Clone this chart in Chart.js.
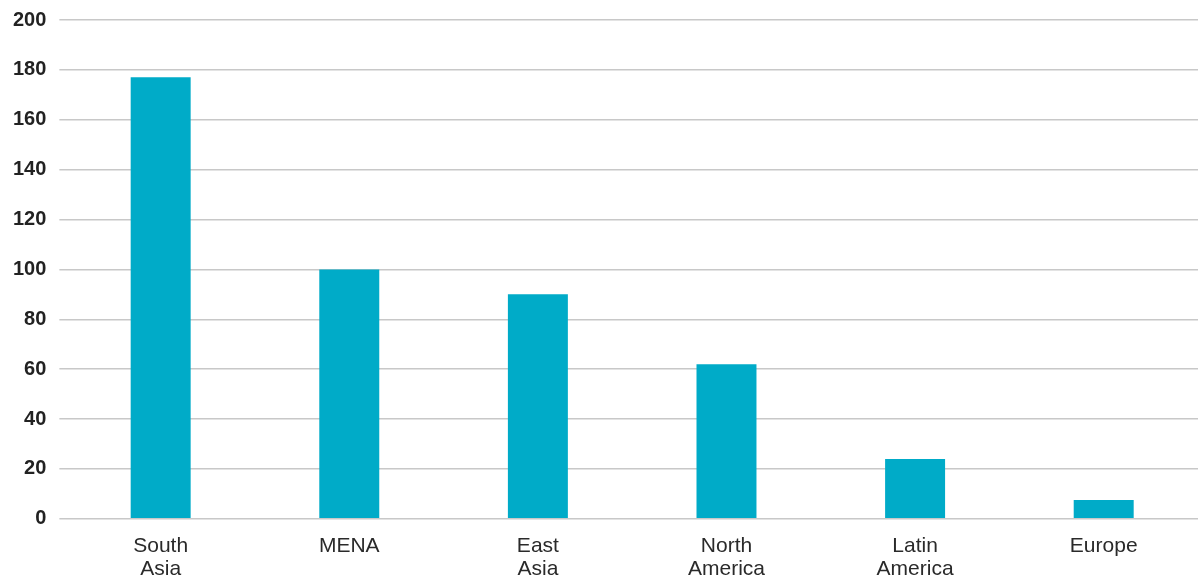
<!DOCTYPE html>
<html>
<head>
<meta charset="utf-8">
<script src="https://cdn.jsdelivr.net/npm/chart.js@4/dist/chart.umd.min.js"></script>
<style>
    html, body { margin: 0; padding: 0; background: #fff; }
    #wrap { width: 1204px; height: 575px; }
</style>
</head>
<body>
<div id="wrap"><canvas id="regionChart"></canvas></div>
<script>
// Regions on the x axis (two-line labels)
const regions = [['South', 'Asia'], 'MENA', ['East', 'Asia'], ['North', 'America'], ['Latin', 'America'], 'Europe'];
// Bar heights
const values = [177, 100, 90, 62, 24, 7.5];
// Y axis range
const yMin = 0;
const yMax = 200;
const yStep = 20;

const barColor = '#00abc8';
const gridColor = '#c8c8c8';

new Chart(document.getElementById('regionChart'), {
    type: 'bar',
    data: {
        labels: regions,
        datasets: [{
            data: values,
            backgroundColor: barColor,
            borderWidth: 0,
            barPercentage: 0.318,
            categoryPercentage: 1
        }]
    },
    options: {
        responsive: true,
        maintainAspectRatio: false,
        animation: false,
        // labels of the second row run to the bottom edge, as in the original
        layout: { padding: { top: 0, right: 6, bottom: -14, left: 0 } },
        plugins: {
            legend: { display: false },
            tooltip: { enabled: false }
        },
        scales: {
            x: {
                grid: { display: false },
                border: { display: false },
                ticks: {
                    color: '#2a2a2a',
                    padding: 8,
                    maxRotation: 0,
                    font: { family: 'Liberation Sans, Arial, sans-serif', size: 21, lineHeight: 1.1 }
                }
            },
            y: {
                min: yMin,
                max: yMax,
                border: { display: false },
                grid: { color: gridColor, lineWidth: 1.5, tickLength: 7 },
                ticks: {
                    stepSize: yStep,
                    color: '#222',
                    padding: 13,
                    font: { family: 'Liberation Sans, Arial, sans-serif', size: 20, weight: 'bold', lineHeight: 0.7 }
                }
            }
        }
    }
});
</script>
</body>
</html>
